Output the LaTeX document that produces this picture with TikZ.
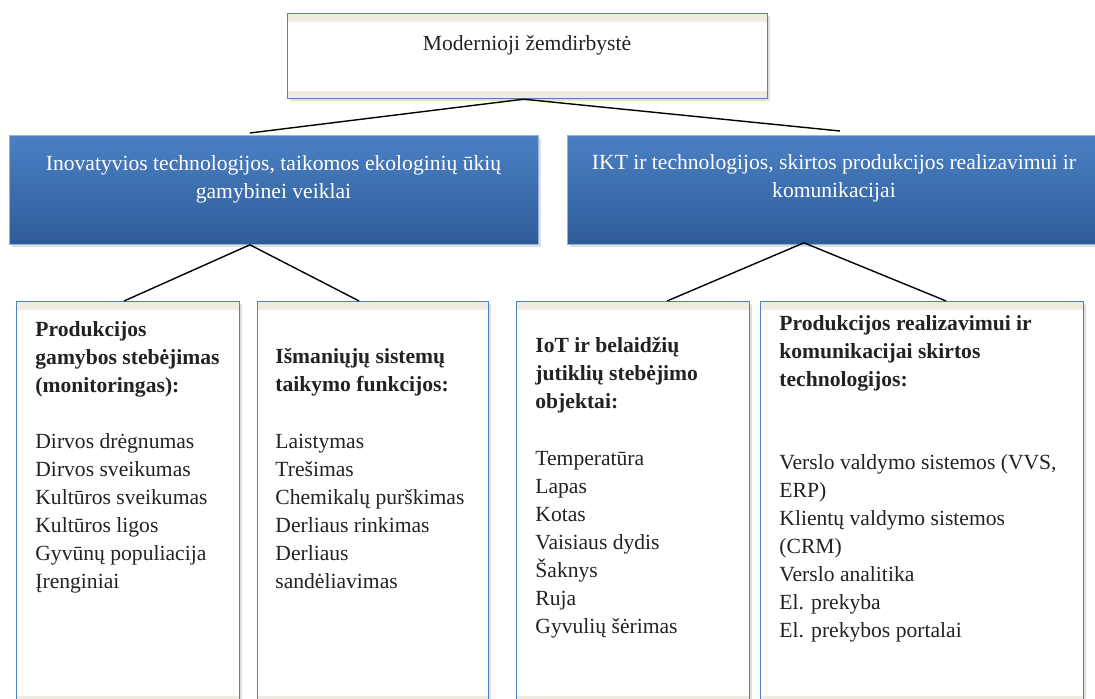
\documentclass[tikz,border=0pt]{standalone}
\usepackage{fontspec}
\setmainfont{Liberation Serif}
\usetikzlibrary{shadows}
\definecolor{frameblue}{HTML}{4F81BD}
\definecolor{bandbeige}{HTML}{EEECE1}
\definecolor{hdtop}{HTML}{4A80C4}
\definecolor{hdmid}{HTML}{2A6AB4}
\definecolor{hdbot}{HTML}{2E5C98}
\definecolor{ink}{HTML}{222222}
\begin{document}
\begin{tikzpicture}[
  x=0.5pt, y=-0.5pt,
  font=\fontsize{10.8pt}{14pt}\selectfont,
  box/.style={draw=frameblue, line width=0.6pt, fill=white, anchor=north west, inner sep=0pt,
    drop shadow={shadow xshift=1.2pt, shadow yshift=-1.2pt, opacity=0.25},
    path picture={
      \fill[bandbeige] (path picture bounding box.north west) rectangle ([yshift=-4pt]path picture bounding box.north east);
      \fill[bandbeige] (path picture bounding box.south west) rectangle ([yshift=4pt]path picture bounding box.south east);}},
  head/.style={draw=frameblue!60!white, line width=0.4pt, anchor=north west, inner sep=0pt,
    top color=hdtop, middle color=hdmid, bottom color=hdbot,
    drop shadow={shadow xshift=1.2pt, shadow yshift=-1.5pt, opacity=0.25}},
  txt/.style={inner sep=0pt, text=ink, execute at begin node={\rule{0pt}{10pt}}},
  headtxt/.style={txt, text=white, anchor=north, align=center},
  list/.style={txt, anchor=north west, align=left},
  link/.style={-, line width=0.7pt, black}
]
\useasboundingbox (0,0) rectangle (1095,699);

% boxes
\node[box, minimum width=240pt, minimum height=42.5pt] (root) at (287,13) {};
\node[head, minimum width=264.5pt, minimum height=54.5pt] (tech) at (9,135) {};
\node[head, minimum width=266.5pt, minimum height=54.5pt] (ikt) at (567,135) {};
\node[box, minimum width=111.5pt, minimum height=201pt] (mon) at (16,301) {};
\node[box, minimum width=115.5pt, minimum height=201pt] (isman) at (257,301) {};
\node[box, minimum width=116.5pt, minimum height=201pt] (iot) at (516,301) {};
\node[box, minimum width=161.5pt, minimum height=201pt] (real) at (760,301) {};

% links
\draw[link] ([xshift=-2pt]root.south) -- ([xshift=-12pt,yshift=1pt]tech.north);
\draw[link] ([xshift=-2pt]root.south) -- ([xshift=3pt,yshift=2pt]ikt.north);
\draw[link] ([xshift=-12pt]tech.south) -- ([xshift=-2pt]mon.north);
\draw[link] ([xshift=-12pt]tech.south) -- ([xshift=-7pt]isman.north);
\draw[link] ([xshift=-15pt,yshift=1pt]ikt.south) -- ([xshift=17pt]iot.north);
\draw[link] ([xshift=-15pt,yshift=1pt]ikt.south) -- ([xshift=12pt]real.north);

% texts
\node[txt, anchor=north] (rootlbl) at (527,30) {Modernioji žemdirbystė};
\node[headtxt] (techlbl) at (273.5,155) {Inovatyvios technologijos, taikomos ekologinių ūkių\\gamybinei veiklai};
\node[headtxt] (iktlbl) at (834,154) {IKT ir technologijos, skirtos produkcijos realizavimui ir\\komunikacijai};

\node[list] (monlbl) at (35,321) {\textbf{Produkcijos}\\\textbf{gamybos stebėjimas}\\\textbf{(monitoringas):}\\[14pt]
  Dirvos drėgnumas\\Dirvos sveikumas\\Kultūros sveikumas\\Kultūros ligos\\Gyvūnų populiacija\\Įrenginiai};
\node[list] (ismanlbl) at (275,348) {\textbf{Išmaniųjų sistemų}\\\textbf{taikymo funkcijos:}\\[14.5pt]
  Laistymas\\Trešimas\\Chemikalų purškimas\\Derliaus rinkimas\\Derliaus\\sandėliavimas};
\node[list] (iotlbl) at (535,337) {\textbf{IoT ir belaidžių}\\\textbf{jutiklių stebėjimo}\\\textbf{objektai:}\\[14.5pt]
  Temperatūra\\Lapas\\Kotas\\Vaisiaus dydis\\Šaknys\\Ruja\\Gyvulių šėrimas};
\node[list] (reallbl) at (779,315) {\textbf{Produkcijos realizavimui ir}\\\textbf{komunikacijai skirtos}\\\textbf{technologijos:}\\[27.5pt]
  Verslo valdymo sistemos (VVS,\\ERP)\\Klientų valdymo sistemos\\(CRM)\\Verslo analitika\\El. prekyba\\El. prekybos portalai};
\end{tikzpicture}
\end{document}
